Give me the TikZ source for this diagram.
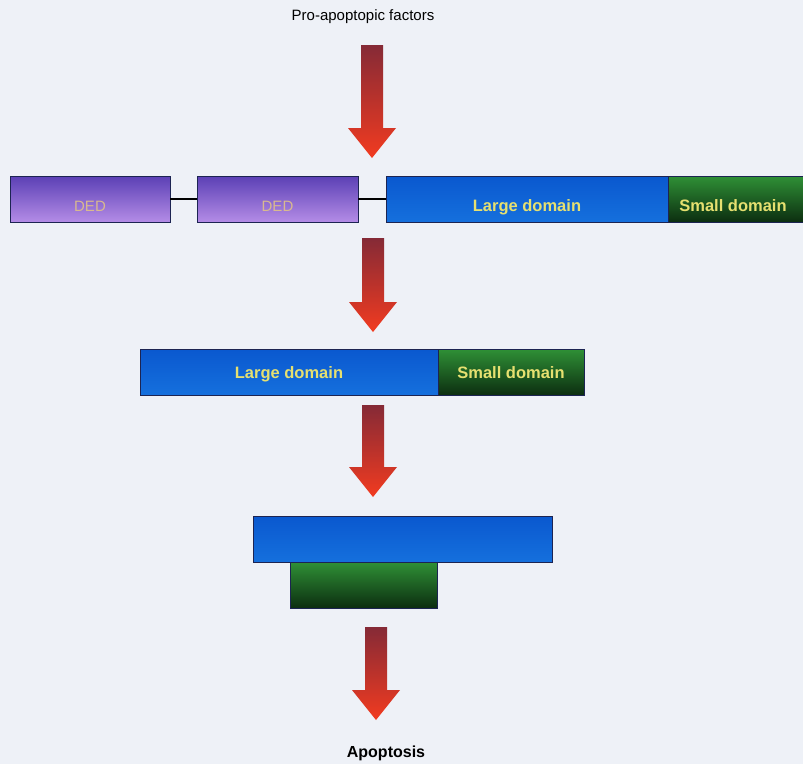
\documentclass[tikz,border=0pt]{standalone}
\usepackage{fontspec}
\setmainfont{Liberation Sans}
\definecolor{bgcol}{HTML}{EEF1F7}
\definecolor{boxline}{HTML}{1C2452}
\definecolor{dedtop}{HTML}{5B40B5}
\definecolor{dedbot}{HTML}{B48CE6}
\definecolor{dedtext}{HTML}{D9B98F}
\definecolor{bluetop}{HTML}{0A58CF}
\definecolor{bluebot}{HTML}{1570DD}
\definecolor{greentop}{HTML}{2F9036}
\definecolor{greenbot}{HTML}{0C2E10}
\definecolor{labelyellow}{HTML}{E6E070}
\definecolor{arrtop}{HTML}{852A36}
\definecolor{arrbot}{HTML}{F23B20}
% downward block arrow: name, centre x, top y, tip y
\newcommand\redarrow[4]{%
  \shade[top color=arrtop, bottom color=arrbot]
    (#2-11,#3) -- (#2+11,#3) -- (#2+11,#4-30) -- (#2+24,#4-30) -- (#2,#4)
    -- (#2-24,#4-30) -- (#2-11,#4-30) -- cycle;
  \coordinate (#1) at (#2,#4);}
\begin{document}
\begin{tikzpicture}[x=1pt,y=-1pt,
  box/.style={draw=boxline, line width=0.7pt, inner sep=0pt, outer sep=0pt,
    anchor=north west, minimum height=46pt},
  lowtext/.style={text height=24pt, text depth=0pt},
  midtext/.style={text height=12pt, text depth=0pt},
  ded/.style={box, top color=dedtop, bottom color=dedbot, text=dedtext,
    font=\fontsize{15}{15}\selectfont},
  large/.style={box, top color=bluetop, bottom color=bluebot, text=labelyellow,
    font=\fontsize{16.5}{16.5}\selectfont\bfseries},
  small/.style={box, top color=greentop, bottom color=greenbot, text=labelyellow,
    font=\fontsize{16.5}{16.5}\selectfont\bfseries},
  link/.style={draw=black, line width=1.6pt},
  caption/.style={font=\fontsize{15}{15}\selectfont, text=black}]
\fill[bgcol] (0,0) rectangle (803,764);
\useasboundingbox (0,0) rectangle (803,764);

% title
\node[caption] (pro) at (363,17) {Pro-apoptopic factors};
\redarrow{a1}{372}{45}{158}

% procaspase: two DEDs, large and small domain
\node[ded, lowtext, minimum width=160pt] (ded1) at (10,176) {DED};
\node[ded, lowtext, minimum width=161pt] (ded2) at (197,176) {DED};
\node[large, lowtext, minimum width=282pt] (lg1) at (386,176) {Large domain};
\node[small, lowtext, minimum width=140pt] (sm1) at (668,176) {\hspace*{-5pt}Small domain\hspace*{5pt}};
\draw[link] (ded1.east) -- (ded2.west);
\draw[link] (ded2.east) -- (lg1.west);

\redarrow{a2}{373}{238}{332}

% cleaved: large and small domain
\node[large, midtext, minimum width=298pt] (lg2) at (140,349) {Large domain};
\node[small, midtext, minimum width=146pt] (sm2) at (438,349) {Small domain};

\redarrow{a3}{373}{405}{497}

% active form
\node[box, top color=bluetop, bottom color=bluebot, minimum width=299pt] (lg3) at (253,516) {};
\node[box, top color=greentop, bottom color=greenbot, minimum width=147pt] (sm3) at (290,562) {};

\redarrow{a4}{376}{627}{720}

\node[caption, font=\fontsize{16}{16}\selectfont\bfseries] (apo) at (386,753) {Apoptosis};
\end{tikzpicture}
\end{document}
